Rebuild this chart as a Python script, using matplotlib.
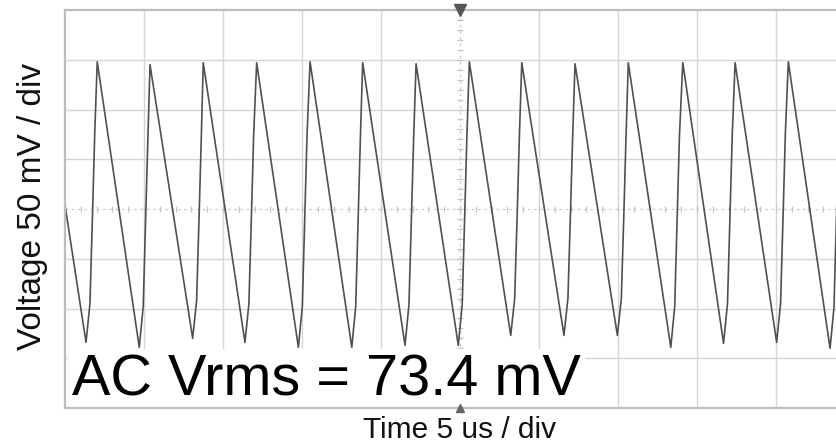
import numpy as np
import matplotlib
matplotlib.use('Agg')
import matplotlib.pyplot as plt

# Scope trace: time in us, voltage in mV
start_t = 0.0
start_v = 4.0
trough_t = [1.33, 4.70, 8.08, 11.39, 14.77, 18.15, 21.52, 24.89, 28.21, 31.58,
            34.96, 38.34, 41.68, 45.04, 48.42]
trough_v = [-134, -139, -130, -134, -139, -139, -137, -137, -127, -127,
            -127, -139, -135, -134, -140]
peak_t = [2.04, 5.38, 8.75, 12.13, 15.51, 18.84, 22.22, 25.59, 28.91, 32.28,
          35.65, 39.10, 42.41, 45.78, 49.10]
peak_v = [148, 145, 147, 147, 148, 147, 146, 148, 147, 146,
          147, 147, 147, 148, 147]
# knee levels of the fast rising edge
knee_lo_v = [-95, -98, -92, -95, -98, -98, -96, -96, -90, -90,
             -90, -98, -95, -95, -99]
knee_hi_v = [75, 73, 74, 74, 75, 74, 73, 75, 74, 73,
             74, 74, 74, 75, 74]

x_div = 5     # us / div
y_div = 50    # mV / div
n_xdiv = 10
n_ydiv = 8

# build the trace
t = [start_t]
v = [start_v]
for i in range(len(trough_t)):
    t += [trough_t[i], trough_t[i] + 0.25, trough_t[i] + 0.42, trough_t[i] + 0.55, peak_t[i]]
    v += [trough_v[i], knee_lo_v[i], 0, knee_hi_v[i], peak_v[i]]

fig = plt.figure(figsize=(8.36, 4.47), dpi=100)
fig.patch.set_facecolor('white')
ax = fig.add_axes([65 / 836, 39 / 447, (836 - 65) / 836, 398 / 447])
ax.set_xlim(0, (836 - 65) / 79 * x_div)
ax.set_ylim(-n_ydiv / 2 * y_div, n_ydiv / 2 * y_div)

grid_col = '#d6d6d6'
for k in range(1, n_xdiv):
    if k == n_xdiv // 2:
        continue
    ax.axvline(k * x_div, color=grid_col, lw=1.0, zorder=1)
for k in range(1, n_ydiv):
    if k == n_ydiv // 2:
        continue
    ax.axhline(-n_ydiv / 2 * y_div + k * y_div, color=grid_col, lw=1.0, zorder=1)

# centre graticule: dotted with small ticks
ax.axvline(n_xdiv / 2 * x_div, color='#c8c8c8', lw=0.9, ls=(0, (2, 3)), zorder=1)
ax.axhline(0, color='#c8c8c8', lw=0.9, ls=(0, (2, 3)), zorder=1)
minor_x = np.arange(0, 50.01, x_div / 5)
minor_y = np.arange(-200, 200.01, y_div / 5)
ax.plot(minor_x, np.zeros_like(minor_x), ls='none', marker='|', ms=5,
        mew=0.9, color='#c4c4c4', zorder=1)
ax.plot(np.full_like(minor_y, 25.0), minor_y, ls='none', marker='_', ms=5,
        mew=0.9, color='#c4c4c4', zorder=1)

ax.plot(t, v, color='#505050', lw=1.2, zorder=3)

# trigger / position markers
ax.plot([25], [200], marker='v', ms=8, color='#555555', clip_on=False, zorder=7)
ax.plot([25], [-200], marker='^', ms=6, color='#666666', clip_on=False, zorder=7)

for side in ['left', 'top', 'bottom']:
    ax.spines[side].set_color('#bdbdbd')
    ax.spines[side].set_linewidth(1.6)
    ax.spines[side].set_zorder(6)
ax.spines['right'].set_visible(False)
ax.set_xticks([])
ax.set_yticks([])

ax.text(0.45, -187, 'AC Vrms = 73.4 mV', fontsize=41.5, family='Liberation Sans',
        color='black', ha='left', va='baseline', zorder=4,
        bbox=dict(facecolor='white', edgecolor='none', pad=3))

fig.text(460 / 836, 1 - 438 / 447, 'Time 5 us / div', fontsize=21.5,
         family='Liberation Sans', ha='center', va='baseline', color='#111111')
fig.text(33 / 836, 1 - 206 / 447, 'Voltage 50 mV / div', fontsize=24,
         family='Liberation Sans', ha='center', va='center', rotation=90,
         color='#111111')

fig.savefig('out.png', dpi=100, facecolor='white')
